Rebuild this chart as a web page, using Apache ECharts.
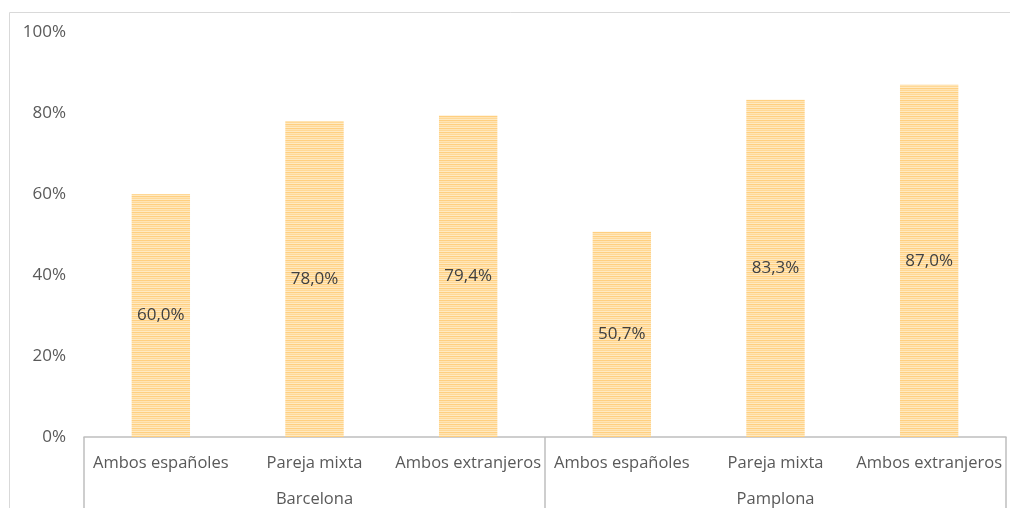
<!DOCTYPE html>
<html>
<head>
<meta charset="utf-8">
<script src="https://cdn.jsdelivr.net/npm/echarts@6/dist/echarts.min.js"></script>
<style>
  html, body { margin: 0; padding: 0; background: #fff; }
  #main { width: 1010px; height: 508px; }
</style>
</head>
<body>
<div id="main"></div>
<script>
const categories = ['Ambos españoles', 'Pareja mixta', 'Ambos extranjeros', 'Ambos españoles', 'Pareja mixta', 'Ambos extranjeros']
const groups = ['Barcelona', 'Pamplona']
const values = [60.0, 78.0, 79.4, 50.7, 83.3, 87.0]
const yTicks = [0, 20, 40, 60, 80, 100]

// striped fill for the bars
function stripes() {
  const c = document.createElement('canvas')
  c.width = 4
  c.height = 4
  const ctx = c.getContext('2d')
  const rows = ['#ffcf80', '#ffe4b4', '#ffd896', '#ffeac2']
  rows.forEach((col, i) => {
    ctx.fillStyle = col
    ctx.fillRect(0, i, 4, 1)
  })
  return c
}

const font = '"Open Sans", sans-serif'
const chart = echarts.init(document.getElementById('main'))

chart.setOption({
  animation: false,
  textStyle: { fontFamily: font },
  graphic: [{
    type: 'rect',
    shape: { x: 9.5, y: 12.5, width: 1010, height: 520 },
    style: { fill: 'none', stroke: '#d9d9d9', lineWidth: 1 },
    silent: true
  }],
  grid: { left: 84, right: 4, top: 32, bottom: 70 },
  xAxis: [{
    type: 'category',
    data: categories,
    axisLine: { lineStyle: { color: '#bfbfbf', width: 1.5 } },
    axisTick: { show: false },
    axisLabel: { interval: 0, color: '#595959', fontSize: 16.5, margin: 18, fontFamily: font }
  }, {
    type: 'category',
    data: groups,
    position: 'bottom',
    axisLine: { show: false },
    axisTick: { show: true, length: 80, lineStyle: { color: '#bfbfbf', width: 1.5 } },
    axisLabel: { color: '#595959', fontSize: 16.5, margin: 54, fontFamily: font }
  }],
  yAxis: {
    type: 'value',
    min: yTicks[0],
    max: yTicks[yTicks.length - 1],
    interval: 20,
    splitLine: { show: false },
    axisLine: { show: false },
    axisTick: { show: false },
    axisLabel: { formatter: '{value}%', color: '#595959', fontSize: 17, margin: 18, fontFamily: font }
  },
  series: [{
    type: 'bar',
    data: values,
    barWidth: '38%',
    itemStyle: { color: { image: stripes(), repeat: 'repeat' } },
    label: {
      show: true,
      position: 'inside',
      color: '#404040',
      fontSize: 17,
      fontFamily: font,
      formatter: p => p.value.toFixed(1).replace('.', ',') + '%'
    }
  }]
})
</script>
</body>
</html>
